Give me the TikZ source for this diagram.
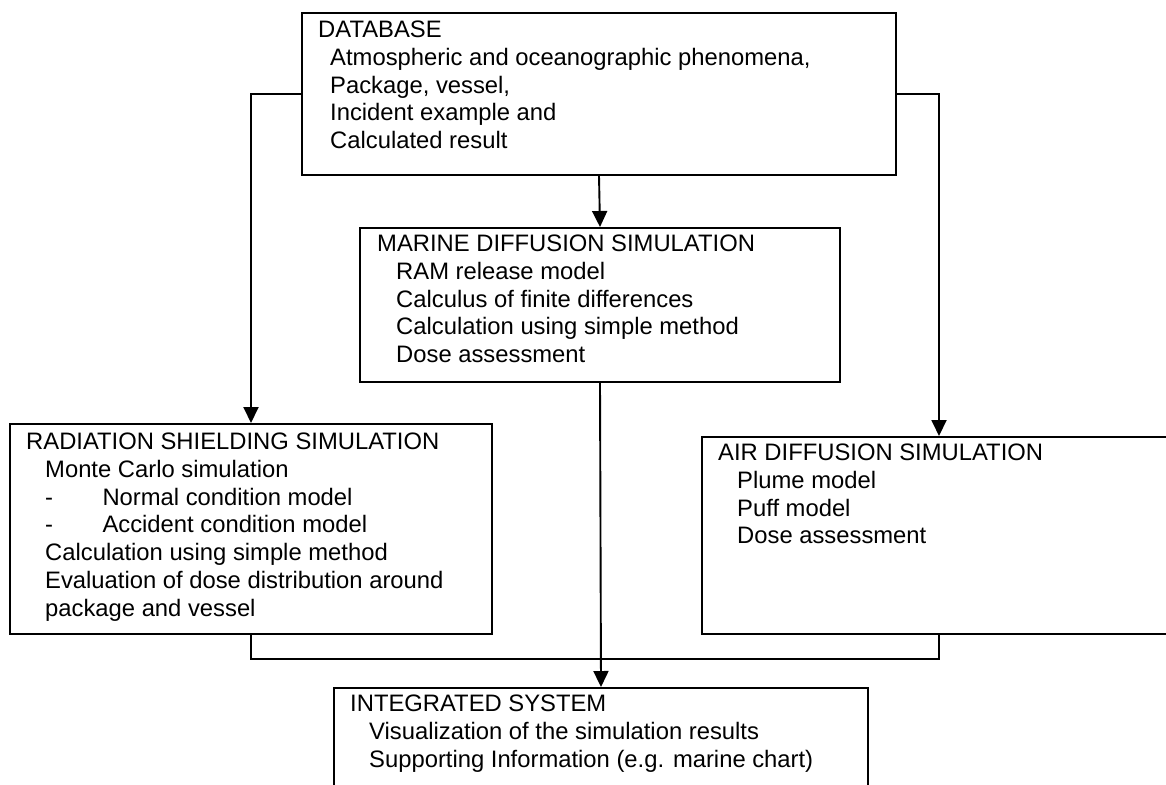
\documentclass[tikz,border=0pt]{standalone}
\usepackage{fontspec}
\setmainfont{Liberation Sans}
\usetikzlibrary{arrows.meta}
\newcommand{\itm}[1][19pt]{\hspace*{#1}}
\begin{document}
\begin{tikzpicture}[x=1pt,y=-1pt,
  box/.style={draw,line width=2pt,anchor=north west,inner sep=0pt},
  txt/.style={anchor=north west,inner sep=0pt,align=left,
    font={\fontsize{23.8pt}{27.7pt}\selectfont}},
  conn/.style={line width=1.9pt},
  arr/.style={conn,-{Triangle[length=16pt,width=15pt]}}]
\useasboundingbox[fill=white] (0,0) rectangle (1166,784);
\node[box,minimum width=594pt,minimum height=162pt] (db) at (301,12) {};
\node[box,minimum width=480pt,minimum height=154pt] (mds) at (359,227) {};
\node[box,minimum width=482pt,minimum height=210pt] (rss) at (9,423) {};
\node[box,minimum width=474pt,minimum height=197pt] (ads) at (701,436) {};
\node[box,minimum width=534pt,minimum height=130pt] (int) at (333,687) {};
\node[txt] (dbtxt) at ([xshift=17pt,yshift=-9pt]db.north west)
  {DATABASE\\ \itm[12pt]Atmospheric and oceanographic phenomena,\\
   \itm[12pt]Package, vessel,\\ \itm[12pt]Incident example and\\
   \itm[12pt]Calculated result};
\node[txt] (mdstxt) at ([xshift=18pt,yshift=-8pt]mds.north west)
  {MARINE DIFFUSION SIMULATION\\ \itm RAM release model\\
   \itm Calculus of finite differences\\ \itm Calculation using simple method\\
   \itm Dose assessment};
\node[txt] (rsstxt) at ([xshift=17pt,yshift=-10pt]rss.north west)
  {RADIATION SHIELDING SIMULATION\\ \itm Monte Carlo simulation\\
   \itm-\hspace*{49.4pt}Normal condition model\\
   \itm-\hspace*{49.4pt}Accident condition model\\
   \itm Calculation using simple method\\
   \itm Evaluation of dose distribution around\\ \itm package and vessel};
\node[txt] (adstxt) at ([xshift=17pt,yshift=-8pt]ads.north west)
  {AIR DIFFUSION SIMULATION\\ \itm Plume model\\ \itm Puff model\\
   \itm Dose assessment};
\node[txt] (inttxt) at ([xshift=17pt,yshift=-8pt]int.north west)
  {INTEGRATED SYSTEM\\ \itm Visualization of the simulation results\\
   \itm Supporting Information (e.g. marine chart)};
\coordinate (join) at (251,659);
\draw[arr] (db.west) -| (rss.north);
\draw[arr] (db.east) -| (ads.north);
\draw[arr] (db.south) -- (mds.north);
\draw[arr] (mds.south) -- (int.north);
\draw[conn] (rss.south) |- (join) -| (ads.south);
\end{tikzpicture}
\end{document}
